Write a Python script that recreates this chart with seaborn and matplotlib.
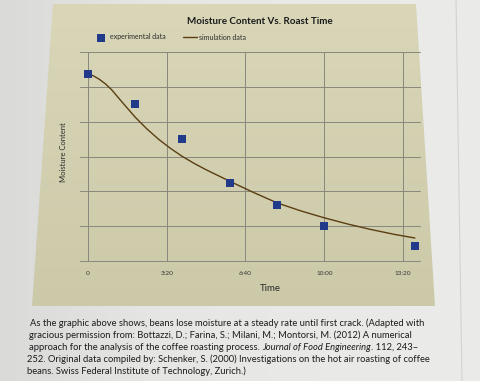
import numpy as np
import matplotlib
matplotlib.use("Agg")
import matplotlib.pyplot as plt
from matplotlib.patches import Polygon
from matplotlib.colors import LinearSegmentedColormap
import seaborn as sns

# values (time in seconds, moisture in grid units)
exp_time = [0, 120, 240, 360, 480, 600, 830]
exp_moist = [5.38, 4.50, 3.49, 2.25, 1.62, 1.00, 0.43]

sim_time = [0, 15, 30, 45, 60, 90, 120, 150, 180, 210, 240, 270, 300, 360, 420,
            480, 540, 600, 660, 720, 780, 830]
sim_moist = [5.38, 5.31, 5.21, 5.08, 4.92, 4.52, 4.13, 3.79, 3.49, 3.23, 3.00,
             2.80, 2.62, 2.29, 1.97, 1.67, 1.44, 1.24, 1.06, 0.90, 0.76, 0.66]

tick_pos = [0, 200, 400, 600, 800]
tick_labels = ["0", "3:20", "6:40", "10:00", "13:20"]

caption = [
    "As the graphic above shows, beans lose moisture at a steady rate until first crack. (Adapted with",
    "gracious permission from: Bottazzi, D.; Farina, S.; Milani, M.; Montorsi, M. (2012) A numerical",
    [("approach for the analysis of the coffee roasting process. ", "normal"),
     ("Journal of Food Engineering", "italic"),
     (". 112, 243\u2013", "normal")],
    "252. Original data compiled by: Schenker, S. (2000) Investigations on the hot air roasting of coffee",
    "beans. Swiss Federal Institute of Technology, Zurich.)",
]

sns.set_theme(style="white")
plt.rcParams['font.family'] = ['Lato', 'DejaVu Sans']

W, H = 480, 381
fig = plt.figure(figsize=(4.8, 3.81), dpi=100)
fig.patch.set_facecolor('#e8e8e6')

# background: page + tan chart panel
bg = fig.add_axes([0, 0, 1, 1])
bg.set_xlim(0, W)
bg.set_ylim(H, 0)
bg.axis('off')
page = np.linspace(0, 1, 200)[None, :]
page_cmap = LinearSegmentedColormap.from_list('page', ['#dadad9', '#e6e6e4', '#e9e9e7', '#ebebe9'])
bg.imshow(page, extent=[0, W, H, 0], cmap=page_cmap, aspect='auto')
bg.plot([456, 462], [0, H], color='#d2d2cf', lw=0.8)
panel = Polygon([(53, 4), (416, 4), (435, 306), (32, 306)], closed=True,
                facecolor='none', edgecolor='none')
bg.add_patch(panel)
grad = np.linspace(0, 1, 100)[:, None]
panel_cmap = LinearSegmentedColormap.from_list('panel', ['#d9d7b8', '#c8c6a4'])
im = bg.imshow(grad, extent=[0, W, H, 0], cmap=panel_cmap, aspect='auto')
im.set_clip_path(panel)

# chart
ax = fig.add_axes([80 / W, 1 - 261 / H, 340 / W, 209 / H])
ax.patch.set_alpha(0)
sns.scatterplot(x=exp_time, y=exp_moist, marker='s', s=28, color='#213b8a',
                linewidth=0, label='experimental data', ax=ax, zorder=3)
sns.lineplot(x=sim_time, y=sim_moist, color='#5b3d12', linewidth=1.0,
             label='simulation data', ax=ax, zorder=2)

ax.set_xlim(-20, 843)
ax.set_ylim(0, 6)
ax.set_xticks(tick_pos, tick_labels)
ax.set_yticks(range(7))
ax.set_yticklabels([])
ax.grid(True, color='#87877c', lw=0.7)
for gl in ax.get_ygridlines() + ax.get_xgridlines():
    gl.set_clip_on(False)
for s in ax.spines.values():
    s.set_visible(False)
ax.tick_params(axis='x', length=4, width=0.7, color='#87877c', pad=3,
               labelsize=4.6, labelcolor='#333333')
ax.tick_params(axis='y', length=0)

ax.set_xlabel('Time', fontsize=7, color='#2a2a2a')
ax.xaxis.set_label_coords((270 - 80) / 340, (261 - 284) / 209)
ax.set_ylabel('Moisture Content', fontsize=5.5, color='#2a2a2a')
ax.yaxis.set_label_coords((67 - 80) / 340, (261 - 152) / 209)

handles, labels = ax.get_legend_handles_labels()
ax.get_legend().remove()
fig.legend(handles, labels, loc='center left', bbox_to_anchor=(94 / W, 1 - 37 / H),
           ncol=2, frameon=False, fontsize=5, handlelength=1.9, handletextpad=0.35,
           columnspacing=2.6, borderaxespad=0, borderpad=0, labelcolor='#2a2a2a')

renderer = fig.canvas.get_renderer()

title = fig.text(260 / W, 1 - 22 / H, 'Moisture Content Vs. Roast Time',
                 ha='center', va='center', fontsize=10, weight='bold', color='#1a1a1a')
tw = title.get_window_extent(renderer).width
title.set_fontsize(10 * 146 / tw)

# caption: size fitted so the first line spans the same width as in the photo
probe = fig.text(0, 0, caption[0], fontsize=10)
cap_size = 10 * 392 / probe.get_window_extent(renderer).width
probe.remove()

starts = [30, 29, 29, 27, 27]
baselines = [326, 338, 350, 362, 374]
for line, x0, yb in zip(caption, starts, baselines):
    segs = [(line, 'normal')] if isinstance(line, str) else line
    x = x0
    for txt, style in segs:
        t = fig.text(x / W, 1 - yb / H, txt, fontsize=cap_size, style=style,
                     ha='left', va='baseline', color='#1c1c1c')
        x += t.get_window_extent(renderer).width

fig.savefig('out.png', dpi=100, facecolor=fig.get_facecolor())
